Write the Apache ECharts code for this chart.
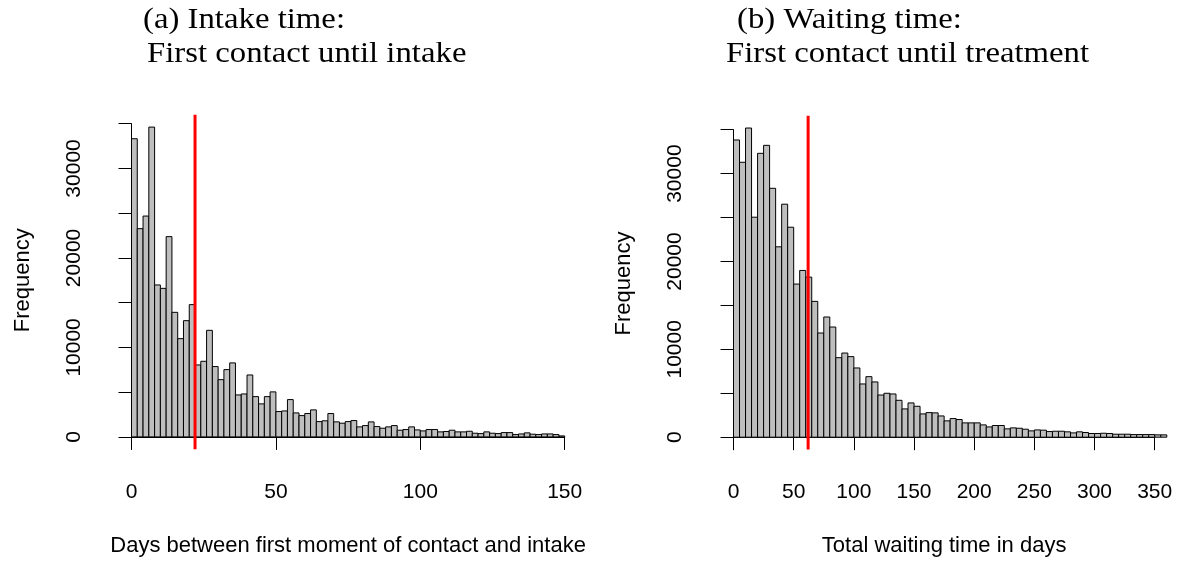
<!DOCTYPE html>
<html>
<head>
<meta charset="utf-8">
<script src="https://cdn.jsdelivr.net/npm/echarts@6/dist/echarts.min.js"></script>
<style>
  html, body { margin: 0; padding: 0; background: #ffffff; }
  #chart { width: 1181px; height: 561px; }
</style>
</head>
<body>
<div id="chart"></div>
<script>
// (a) Intake time: counts per 2-day bin, 0..150 days
const binWidthA = 2;
const countsA = [
  33320, 23270, 24680, 34620, 16980, 16600, 22380, 13920, 10980, 12990,
  14780, 8040, 8450, 11910, 7860, 6400, 7520, 8270, 4690, 4800,
  6920, 4500, 3690, 4500, 5030, 2830, 2900, 4170, 2680, 2380,
  2610, 3020, 1710, 1800, 2610, 1680, 1530, 1710, 1825, 1120,
  1265, 1675, 1155, 970, 1120, 1265, 745, 820, 1120, 780,
  670, 820, 820, 560, 600, 745, 560, 560, 630, 410,
  370, 560, 410, 370, 480, 480, 260, 330, 450, 300,
  260, 330, 330, 260, 110
];
const medianA = 22;

// (b) Waiting time: counts per 5-day bin, 0..360 days
const binWidthB = 5;
const countsB = [
  33830, 31290, 35190, 25040, 32310, 33220, 28330, 21670, 26520, 23900,
  17430, 18980, 18220, 15460, 11860, 13680, 12540, 9050, 9580, 9170,
  7880, 6060, 6890, 6290, 4800, 5000, 4920, 4200, 3220, 3900,
  3520, 2650, 2800, 2770, 2420, 1860, 2120, 2010, 1630, 1630,
  1630, 1400, 1170, 1330, 1330, 950, 1060, 1020, 910, 720,
  830, 800, 640, 680, 680, 610, 490, 610, 530, 420,
  420, 450, 420, 340, 340, 340, 300, 300, 300, 300,
  265, 265
];
const medianB = 62;

const xTicksA = [0, 150, 50];   // min, max, step
const xTicksB = [0, 350, 50];
const yTicks = [0, 35000, 5000];

const titleA = ['(a) Intake time:', 'First contact until intake'];
const titleB = ['(b) Waiting time:', 'First contact until treatment'];
const xNameA = 'Days between first moment of contact and intake';
const xNameB = 'Total waiting time in days';
const yName = 'Frequency';

const SANS = '"Liberation Sans", Arial, Helvetica, sans-serif';
const SERIF = '"Liberation Serif", "Times New Roman", serif';

function binsOf(counts, width) {
  return counts.map((c, i) => [i * width, (i + 1) * width, c]);
}

function histSeries(counts, width, gridIdx) {
  return {
    type: 'custom',
    xAxisIndex: gridIdx,
    yAxisIndex: gridIdx,
    data: binsOf(counts, width),
    encode: { x: [0, 1], y: 2 },
    silent: true,
    renderItem: function (params, api) {
      const p0 = api.coord([api.value(0), api.value(2)]);
      const p1 = api.coord([api.value(1), 0]);
      return {
        type: 'rect',
        shape: { x: p0[0], y: p0[1], width: p1[0] - p0[0], height: p1[1] - p0[1] },
        style: { fill: '#bebebe', stroke: '#000000', lineWidth: 1 }
      };
    }
  };
}

// vertical reference line spanning the padded plot region (4% beyond the data range)
function vlineSeries(value, counts, gridIdx) {
  const m = Math.max.apply(null, counts);
  const lo = -0.04 * m, hi = 1.04 * m;
  return {
    type: 'custom',
    xAxisIndex: gridIdx,
    yAxisIndex: gridIdx,
    data: [[value]],
    silent: true,
    z: 5,
    renderItem: function (params, api) {
      const a = api.coord([api.value(0), hi]);
      const b = api.coord([api.value(0), lo]);
      return {
        type: 'line',
        shape: { x1: a[0], y1: a[1], x2: b[0], y2: b[1] },
        style: { stroke: '#ff0000', lineWidth: 3 }
      };
    }
  };
}

function xAxisCfg(gridIdx, ticks, name, show) {
  return {
    type: 'value', gridIndex: gridIdx, show: show,
    min: ticks[0], max: ticks[1], interval: ticks[2],
    position: 'bottom', offset: 13,
    name: name, nameLocation: 'middle', nameGap: 85,
    nameTextStyle: { fontFamily: SANS, fontSize: 22, color: '#000' },
    axisLine: { show: true, lineStyle: { color: '#000', width: 1 } },
    axisTick: { show: true, length: 13, lineStyle: { color: '#000', width: 1 } },
    axisLabel: { show: true, margin: 32, fontFamily: SANS, fontSize: 21, color: '#000' },
    splitLine: { show: false }
  };
}

function yAxisCfg(gridIdx, offset, show) {
  return {
    type: 'value', gridIndex: gridIdx, show: show,
    min: yTicks[0], max: yTicks[1], interval: yTicks[2],
    position: 'left', offset: offset,
    name: yName, nameLocation: 'middle', nameGap: 80, nameRotate: 90,
    nameTextStyle: { fontFamily: SANS, fontSize: 22, color: '#000' },
    axisLine: { show: true, lineStyle: { color: '#000', width: 1 } },
    axisTick: { show: true, length: 13, lineStyle: { color: '#000', width: 1 } },
    axisLabel: {
      show: true, rotate: 90, margin: 29, fontFamily: SANS, fontSize: 21, color: '#000',
      formatter: v => (v % 10000 === 0 ? String(v) : '')
    },
    splitLine: { show: false }
  };
}

// panel headings: serif text, slightly widened
function headingText(text, x, yMid) {
  return {
    type: 'text', x: x, y: yMid, scaleX: 1.13, silent: true,
    style: {
      text: text, fill: '#000',
      font: 'normal 29px ' + SERIF,
      align: 'left', verticalAlign: 'middle'
    }
  };
}

const chart = echarts.init(document.getElementById('chart'), null, { renderer: 'canvas' });

chart.setOption({
  backgroundColor: '#ffffff',
  animation: false,
  graphic: [
    headingText(titleA[0], 143, 20),
    headingText(titleA[1], 147, 54.5),
    headingText(titleB[0], 737, 20),
    headingText(titleB[1], 726, 54.5)
  ],
  grid: [
    // (a) data region 0..150 days x 0..35000
    { left: 131.5, top: 123.7, width: 433.2, height: 313.2, outerBoundsMode: 'none', containLabel: false },
    // (b) data region 0..360 days
    { left: 733.5, top: 129.7, width: 433.3, height: 307.5, outerBoundsMode: 'none', containLabel: false },
    // (b) tick range 0..350 days for the x axis
    { left: 733.5, top: 129.7, width: 421.2, height: 307.5, outerBoundsMode: 'none', containLabel: false }
  ],
  xAxis: [
    xAxisCfg(0, xTicksA, xNameA, true),
    Object.assign(xAxisCfg(1, [0, 360, 50], '', false), { show: false }),
    xAxisCfg(2, xTicksB, xNameB, true)
  ],
  yAxis: [
    yAxisCfg(0, 17.5, true),
    yAxisCfg(1, 18.5, true),
    Object.assign(yAxisCfg(2, 0, false), { show: false, min: 0, max: 1, interval: 1 })
  ],
  series: [
    histSeries(countsA, binWidthA, 0),
    vlineSeries(medianA, countsA, 0),
    histSeries(countsB, binWidthB, 1),
    vlineSeries(medianB, countsB, 1)
  ]
});
</script>
</body>
</html>
